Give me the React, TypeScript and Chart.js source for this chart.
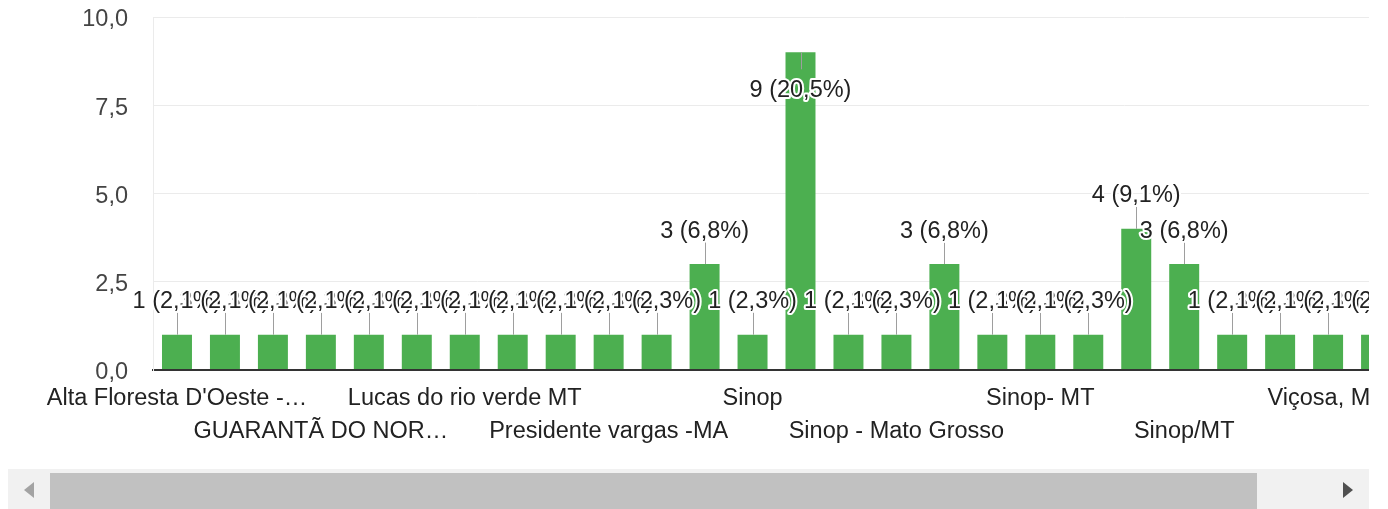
import React, { useEffect, useRef } from 'react';
import { Chart, registerables } from 'chart.js';

Chart.register(...registerables);

const categories: string[] = [
  "Alta Floresta D'Oeste - RO",
  'Cláudia - MT',
  'Colíder MT',
  'GUARANTÃ DO NORTE - MT',
  'Itaúba MT',
  'Juara - MT',
  'Lucas do rio verde MT',
  'Marcelândia',
  'Nova Mutum',
  'Presidente vargas -MA',
  'Santa Carmem - MT',
  'SINOP',
  'Sinop',
  'Sinop (MT)',
  'Sinop - Mt',
  'Sinop - Mato Grosso',
  'Sinop - MT',
  'Sinop -MT',
  'Sinop- MT',
  'Sinop, MT',
  'Sinop-MT',
  'Sinop/MT',
  'Sinop/Mato Grosso',
  'Sorriso - MT',
  'Viçosa, MG',
  'Vila Rica - MT',
  'Vilhena - RO',
];

const counts: number[] = [1, 1, 1, 1, 1, 1, 1, 1, 1, 1, 1, 3, 1, 9, 1, 1, 3, 1, 1, 1, 4, 3, 1, 1, 1, 1, 1];

const yTicks: number[] = [0, 2.5, 5, 7.5, 10];

const FONT = '"Liberation Sans", Arial, Helvetica, sans-serif';
const FONT_SIZE = 23.5;
const total = counts.reduce((a, b) => a + b, 0);

const fmt = (n: number, d: number) => n.toFixed(d).replace('.', ',');

let measureCtx: CanvasRenderingContext2D | null = null;
function truncate(label: string, maxW: number): string {
  if (!measureCtx) measureCtx = document.createElement('canvas').getContext('2d');
  const ctx = measureCtx!;
  ctx.font = `${FONT_SIZE}px ${FONT}`;
  if (ctx.measureText(label).width <= maxW) return label;
  let s = label;
  while (s.length > 1 && ctx.measureText(s.trimEnd() + '…').width > maxW) s = s.slice(0, -1);
  return s.trimEnd() + '…';
}

const annotationPlugin = {
  id: 'annot',
  afterDatasetsDraw(chart: any) {
    const meta = chart.getDatasetMeta(0);
    const ctx: CanvasRenderingContext2D = chart.ctx;
    const top = chart.chartArea.top;
    const items = meta.data.map((bar: any, i: number) => {
      const v = counts[i];
      const x = bar.x;
      const y = bar.y;
      const text = `${v} (${fmt((v / total) * 100, 1)}%)`;
      if (y - 33 - 12 < top) return { x, text, cy: y + 38, s1: y, s2: y + 17 };
      return { x, text, cy: y - 33, s1: y, s2: y - 22 };
    });
    ctx.save();
    ctx.strokeStyle = '#9e9e9e';
    ctx.lineWidth = 1;
    items.forEach((it: any) => {
      const px = Math.round(it.x) + 0.5;
      ctx.beginPath();
      ctx.moveTo(px, it.s1);
      ctx.lineTo(px, it.s2);
      ctx.stroke();
    });
    ctx.font = `${FONT_SIZE}px ${FONT}`;
    ctx.textAlign = 'center';
    ctx.textBaseline = 'middle';
    ctx.lineJoin = 'round';
    items.forEach((it: any) => {
      ctx.strokeStyle = '#ffffff';
      ctx.lineWidth = 4;
      ctx.strokeText(it.text, it.x, it.cy);
      ctx.fillStyle = '#222222';
      ctx.fillText(it.text, it.x, it.cy);
    });
    ctx.restore();
  },
};

const CANVAS_W = 1441;
const CANVAS_H = 469;

export default function App() {
  const ref = useRef<HTMLCanvasElement>(null);

  useEffect(() => {
    if (!ref.current) return;
    const chart = new Chart(ref.current, {
      type: 'bar',
      data: {
        labels: categories,
        datasets: [
          {
            data: counts,
            backgroundColor: '#4caf50',
            borderWidth: 0,
            barPercentage: 0.625,
            categoryPercentage: 1,
          },
        ],
      },
      options: {
        animation: false,
        responsive: false,
        devicePixelRatio: 1,
        layout: { padding: { top: 0, left: 0, right: 1, bottom: 0 } },
        plugins: {
          legend: { display: false },
          tooltip: { enabled: false },
        },
        scales: {
          x: {
            offset: true,
            grid: { display: false, drawTicks: false },
            border: { display: true, color: '#333333', width: 2 },
            ticks: {
              autoSkip: false,
              maxRotation: 0,
              minRotation: 0,
              padding: 12,
              color: '#222222',
              font: { family: FONT, size: FONT_SIZE, lineHeight: '33px' },
              callback: (_v: any, i: number) => {
                if (i % 3 !== 0) return '';
                const lab = truncate(categories[i], 263);
                return (i / 3) % 2 === 0 ? lab : ['', lab];
              },
            },
            afterFit: (s: any) => {
              s.height = 99;
              s.paddingLeft = 0;
              s.paddingRight = 0;
            },
          },
          y: {
            min: 0,
            max: 10,
            afterBuildTicks: (s: any) => {
              s.ticks = yTicks.map((v) => ({ value: v }));
            },
            grid: {
              drawTicks: false,
              color: (c: any) => (c.tick && c.tick.value === 0 ? '#333333' : '#ebebeb'),
              lineWidth: (c: any) => (c.tick && c.tick.value === 0 ? 2 : 1),
            },
            border: { display: true, color: '#ebebeb', width: 1 },
            ticks: {
              padding: 25,
              labelOffset: 3,
              color: '#444444',
              font: { family: FONT, size: FONT_SIZE },
              callback: (v: any) => fmt(Number(v), 1),
            },
            afterFit: (s: any) => {
              s.width = 145;
              s.paddingTop = 17;
              s.paddingBottom = 0;
            },
          },
        },
      },
      plugins: [annotationPlugin],
    });
    return () => chart.destroy();
  }, []);

  return (
    <div style={{ position: 'relative', width: 1361, height: 509, marginTop: -8, overflow: 'hidden' }}>
      <style>{`html,body{overflow:hidden}`}</style>
      <div style={{ position: 'absolute', left: 0, top: 0, width: 1361, height: CANVAS_H, overflow: 'hidden' }}>
        <canvas
          ref={ref}
          width={CANVAS_W}
          height={CANVAS_H}
          style={{ display: 'block', width: CANVAS_W, height: CANVAS_H }}
        />
      </div>
      <div
        style={{
          position: 'absolute',
          left: 0,
          top: CANVAS_H,
          width: 1361,
          height: 40,
          background: '#f1f1f1',
        }}
      >
        <div
          style={{
            position: 'absolute',
            left: 16,
            top: 13,
            width: 0,
            height: 0,
            borderTop: '8px solid transparent',
            borderBottom: '8px solid transparent',
            borderRight: '10px solid #a3a3a3',
          }}
        />
        <div
          style={{
            position: 'absolute',
            left: 42,
            top: 4,
            width: 1207,
            height: 36,
            background: '#c1c1c1',
          }}
        />
        <div
          style={{
            position: 'absolute',
            left: 1335,
            top: 13,
            width: 0,
            height: 0,
            borderTop: '8px solid transparent',
            borderBottom: '8px solid transparent',
            borderLeft: '10px solid #505050',
          }}
        />
      </div>
    </div>
  );
}
